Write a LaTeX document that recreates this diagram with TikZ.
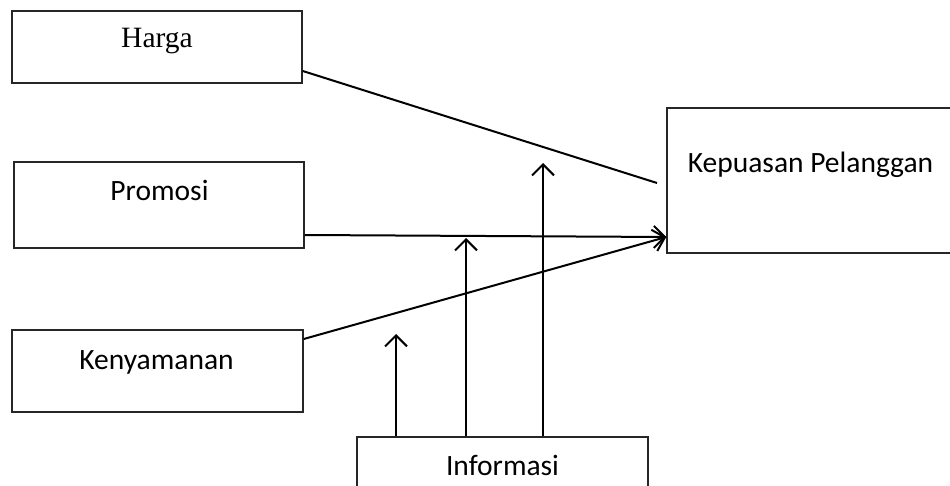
\documentclass[tikz,border=0pt]{standalone}
\usepackage{fontspec}
\setmainfont{Carlito}
\newfontfamily\timesfont{Liberation Serif}
\usetikzlibrary{arrows.meta}
\begin{document}
\begin{tikzpicture}[x=1pt,y=-1pt,
  box/.style={draw=black!85, line width=1.5pt, minimum width=#1, inner sep=0pt},
  lbl/.style={font=\fontsize{29.5}{35}\selectfont, inner sep=0pt, anchor=base},
  conn/.style={line width=2pt, black},
  arr/.style={conn, -{Straight Barb[length=11pt, width=22pt, line width=2pt]}}]
\useasboundingbox (0,0) rectangle (950,486);
\clip (0,0) rectangle (950,486);
\fill[white] (0,0) rectangle (950,486);
% boxes
\node[box=290pt, minimum height=72pt] (harga) at (157,47) {};
\node[box=290pt, minimum height=86pt] (promosi) at (159,205) {};
\node[box=291pt, minimum height=82pt] (kenyamanan) at (157.5,371) {};
\node[box=300pt, minimum height=145pt] (kepuasan) at (817,180.5) {};
\node[box=291pt, minimum height=80pt] (informasi) at (502.5,477) {};
% labels
\node[lbl, font=\fontsize{29.5}{35}\timesfont] (hargaT) at (157,48) {Harga};
\node[lbl] (promosiT) at (159.5,201) {Promosi};
\node[lbl] (kenyamananT) at (156.5,369) {Kenyamanan};
\node[lbl] (kepuasanT) at (810.5,173) {Kepuasan Pelanggan};
\node[lbl] (informasiT) at (502.5,475) {Informasi};
% free ends
\coordinate (hend) at (657,183);
\coordinate (m1) at (396,334);
\coordinate (m2) at (466,238);
\coordinate (m3) at (543,163);
% connectors
\draw[conn] ([yshift=-24pt]harga.east) -- (hend);
\draw[arr] ([yshift=-30pt]promosi.east) -- ([yshift=-56.5pt]kepuasan.west);
\draw[arr] ([yshift=32pt]kenyamanan.east) -- ([yshift=-56.5pt]kepuasan.west);
\draw[arr] ([xshift=-106.5pt]informasi.north) -- (m1);
\draw[arr] ([xshift=-36.5pt]informasi.north) -- (m2);
\draw[arr] ([xshift=40.5pt]informasi.north) -- (m3);
\end{tikzpicture}
\end{document}
